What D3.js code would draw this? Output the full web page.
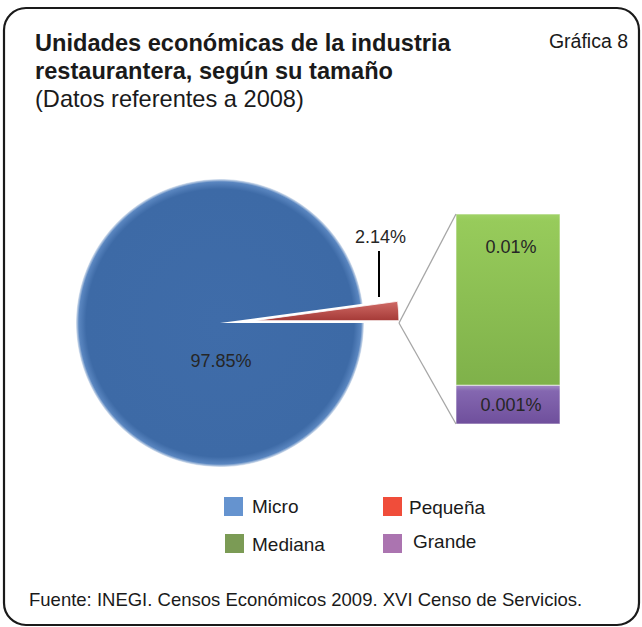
<!DOCTYPE html>
<html>
<head>
<meta charset="utf-8">
<script src="https://cdn.jsdelivr.net/npm/d3@7"></script>
<style>
  html, body { margin: 0; padding: 0; background: #fff; }
  svg { display: block; font-family: "Liberation Sans", Arial, sans-serif; }
</style>
</head>
<body>
<div id="chart"></div>
<script>
// chart data
const categories = ["Micro", "Pequeña", "Mediana", "Grande"];
const values = [97.85, 2.14, 0.01, 0.001];
const valueLabels = ["97.85%", "2.14%", "0.01%", "0.001%"];
// split of the secondary bar as drawn (share of the bar height)
const barShares = [81.5, 18.5];
const legendColors = ["#6593cf", "#f04d3a", "#7b9b55", "#ab74b0"];

const width = 642, height = 627;

const svg = d3.select("#chart").append("svg")
  .attr("width", width)
  .attr("height", height);

const defs = svg.append("defs");

// gradients for the marks
const blueGrad = defs.append("radialGradient").attr("id", "blueGrad")
  .attr("cx", "50%").attr("cy", "50%").attr("r", "50%");
blueGrad.append("stop").attr("offset", "0%").attr("stop-color", "#3f6ca9");
blueGrad.append("stop").attr("offset", "93%").attr("stop-color", "#3d6aa6");
blueGrad.append("stop").attr("offset", "98%").attr("stop-color", "#5a86c0");
blueGrad.append("stop").attr("offset", "100%").attr("stop-color", "#e0e8f2");

const redGrad = defs.append("linearGradient").attr("id", "redGrad")
  .attr("x1", 0).attr("y1", 0).attr("x2", 0).attr("y2", 1);
redGrad.append("stop").attr("offset", "0%").attr("stop-color", "#d06a66");
redGrad.append("stop").attr("offset", "100%").attr("stop-color", "#a53a37");

const greenGrad = defs.append("linearGradient").attr("id", "greenGrad")
  .attr("x1", 0).attr("y1", 0).attr("x2", 0).attr("y2", 1);
greenGrad.append("stop").attr("offset", "0%").attr("stop-color", "#a0d267");
greenGrad.append("stop").attr("offset", "4%").attr("stop-color", "#97cb5b");
greenGrad.append("stop").attr("offset", "100%").attr("stop-color", "#7fb14a");

const purpleGrad = defs.append("linearGradient").attr("id", "purpleGrad")
  .attr("x1", 0).attr("y1", 0).attr("x2", 0).attr("y2", 1);
purpleGrad.append("stop").attr("offset", "0%").attr("stop-color", "#a48cc6");
purpleGrad.append("stop").attr("offset", "15%").attr("stop-color", "#8467b0");
purpleGrad.append("stop").attr("offset", "100%").attr("stop-color", "#6f4f9c");

// frame
svg.append("rect")
  .attr("x", 4).attr("y", 8)
  .attr("width", 635).attr("height", 617)
  .attr("rx", 22).attr("ry", 22)
  .attr("fill", "none")
  .attr("stroke", "#1a1a1a")
  .attr("stroke-width", 2.2);

// titles
svg.append("text")
  .attr("x", 35).attr("y", 51)
  .attr("font-size", 23.6).attr("font-weight", "bold").attr("fill", "#1a1a1a")
  .text("Unidades económicas de la industria");
svg.append("text")
  .attr("x", 35).attr("y", 79)
  .attr("font-size", 23.6).attr("font-weight", "bold").attr("fill", "#1a1a1a")
  .text("restaurantera, según su tamaño");
svg.append("text")
  .attr("x", 35).attr("y", 107)
  .attr("font-size", 23.6).attr("fill", "#1a1a1a")
  .text("(Datos referentes a 2008)");
svg.append("text")
  .attr("x", 628).attr("y", 48)
  .attr("text-anchor", "end")
  .attr("font-size", 19.5).attr("fill", "#1a1a1a")
  .text("Gráfica 8");

// pie: Pequeña, rest (Mediana + Grande), Micro
const cx = 220, cy = 323, r = 144, explode = 35;
const otherValue = values[2] + values[3];
const pieData = [
  { name: categories[1], value: values[1] },
  { name: "Otros", value: otherValue },
  { name: categories[0], value: values[0] }
];
const total = d3.sum(pieData, d => d.value);
const start = Math.PI / 2 - values[1] / total * 2 * Math.PI;
const arcs = d3.pie().sort(null).value(d => d.value)
  .startAngle(start).endAngle(start + 2 * Math.PI)(pieData);
const arc = d3.arc().innerRadius(0).outerRadius(r);

const pieG = svg.append("g").attr("transform", `translate(${cx},${cy})`);

function offsetOf(d) {
  if (d.data.name === "Micro") return [0, 0];
  const a = (d.startAngle + d.endAngle) / 2;
  return [Math.sin(a) * explode, -Math.cos(a) * explode];
}

pieG.selectAll("path")
  .data(arcs.filter(d => d.data.name !== "Otros"))
  .join("path")
  .attr("transform", d => `translate(${offsetOf(d)})`)
  .attr("d", arc)
  .attr("fill", d => d.data.name === "Micro" ? "url(#blueGrad)" : "url(#redGrad)")
  .attr("stroke", d => d.data.name === "Micro" ? "none" : "#ffffff")
  .attr("stroke-width", 0.8);

// secondary bar
const barX = 456, barW = 104, barTop = 214, barBottom = 424;
const y = d3.scaleLinear().domain([0, d3.sum(barShares)]).range([barBottom, barTop]);
const stacked = [
  { name: categories[3], v0: 0, v1: barShares[1], fill: "url(#purpleGrad)", label: valueLabels[3] },
  { name: categories[2], v0: barShares[1], v1: barShares[1] + barShares[0], fill: "url(#greenGrad)", label: valueLabels[2] }
];
svg.append("g").selectAll("rect")
  .data(stacked)
  .join("rect")
  .attr("x", barX).attr("width", barW)
  .attr("y", d => y(d.v1))
  .attr("height", d => y(d.v0) - y(d.v1))
  .attr("fill", d => d.fill)
  .attr("stroke", "rgba(255,255,255,0.6)")
  .attr("stroke-width", 1);

// connector lines from the "other" slice to the bar
const other = arcs.find(d => d.data.name === "Otros");
const oOff = offsetOf(other);
const ox = cx + oOff[0] + Math.sin(other.startAngle) * r;
const oy = cy + oOff[1] - Math.cos(other.startAngle) * r;
svg.append("g").selectAll("line")
  .data([barTop, barBottom])
  .join("line")
  .attr("x1", ox).attr("y1", oy)
  .attr("x2", barX).attr("y2", d => d)
  .attr("stroke", "#a6a6a6")
  .attr("stroke-width", 1.3);

// data labels
svg.append("text")
  .attr("x", cx + 1).attr("y", 367)
  .attr("text-anchor", "middle")
  .attr("font-size", 18).attr("fill", "#262626")
  .text(valueLabels[0]);

svg.append("text")
  .attr("x", 380.5).attr("y", 243)
  .attr("text-anchor", "middle")
  .attr("font-size", 18).attr("fill", "#262626")
  .text(valueLabels[1]);
svg.append("line")
  .attr("x1", 379).attr("x2", 379)
  .attr("y1", 251).attr("y2", 297)
  .attr("stroke", "#000").attr("stroke-width", 2);

svg.append("g").selectAll("text")
  .data(stacked)
  .join("text")
  .attr("x", barX + barW / 2 + 3)
  .attr("y", d => d.name === categories[2] ? y(d.v1) + 39 : (y(d.v0) + y(d.v1)) / 2 + 6)
  .attr("text-anchor", "middle")
  .attr("font-size", 18).attr("fill", "#262626")
  .text(d => d.label);

// legend
const legendPos = [[224, 497], [383, 497], [225, 534], [383, 534]];
const legend = svg.append("g").selectAll("g")
  .data(categories)
  .join("g")
  .attr("transform", (d, i) => `translate(${legendPos[i]})`);
legend.append("rect")
  .attr("width", 19).attr("height", 19)
  .attr("fill", (d, i) => legendColors[i]);
legend.append("text")
  .attr("x", (d, i) => [28, 26, 27, 30][i])
  .attr("y", (d, i) => [16, 17, 17, 14][i])
  .attr("font-size", 19).attr("fill", "#1a1a1a")
  .text(d => d);

// source
svg.append("text")
  .attr("x", 29).attr("y", 606)
  .attr("font-size", 18.5).attr("fill", "#1a1a1a")
  .text("Fuente: INEGI. Censos Económicos 2009. XVI Censo de Servicios.");
</script>
</body>
</html>
